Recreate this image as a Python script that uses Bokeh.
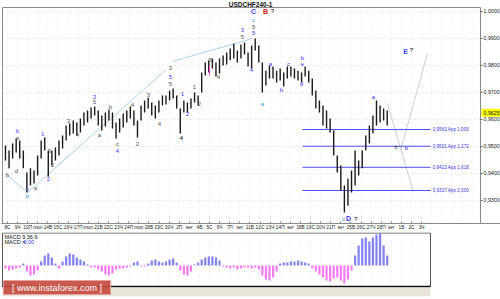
import numpy as np
from bokeh.plotting import figure
from bokeh.layouts import column
from bokeh.models import ColumnDataSource, Range1d, FixedTicker
from bokeh.core.properties import value
from bokeh.embed import file_html
from bokeh.resources import INLINE

FONT = "Liberation Sans"

# ---------------- data ----------------
HIGH = [0.9504, 0.9485, 0.9511, 0.9530, 0.9522, 0.9485, 0.9404, 0.9419, 0.9411, 0.9467,
        0.9522, 0.9533, 0.9485, 0.9485, 0.9496, 0.9522, 0.9541, 0.9578, 0.9585, 0.9596,
        0.9589, 0.9604, 0.9626, 0.9633, 0.9644, 0.9648, 0.9633, 0.9615, 0.9626, 0.9637,
        0.9626, 0.9589, 0.9604, 0.9622, 0.9633, 0.9648, 0.9633, 0.9596, 0.9652, 0.9670,
        0.9681, 0.9663, 0.9652, 0.9670, 0.9689, 0.9689, 0.9707, 0.9715, 0.9689, 0.9641,
        0.9670, 0.9663, 0.9678, 0.9700, 0.9689, 0.9774, 0.9811, 0.9819, 0.9826, 0.9811,
        0.9826, 0.9837, 0.9848, 0.9863, 0.9881, 0.9856, 0.9878, 0.9885, 0.9848, 0.9874,
        0.9900, 0.9874, 0.9811, 0.9781, 0.9800, 0.9796, 0.9781, 0.9789, 0.9774, 0.9796,
        0.9796, 0.9789, 0.9781, 0.9774, 0.9796, 0.9781, 0.9752, 0.9707, 0.9670, 0.9652,
        0.9633, 0.9604, 0.9559, 0.9467, 0.9430, 0.9356, 0.9381, 0.9411, 0.9485, 0.9448,
        0.9485, 0.9541, 0.9578, 0.9615, 0.9670, 0.9652, 0.9641, 0.9633]
LOW = [0.9448, 0.9419, 0.9456, 0.9478, 0.9456, 0.9419, 0.9330, 0.9356, 0.9363, 0.9393,
       0.9456, 0.9485, 0.9389, 0.9430, 0.9448, 0.9467, 0.9493, 0.9522, 0.9541, 0.9548,
       0.9541, 0.9552, 0.9578, 0.9589, 0.9604, 0.9615, 0.9578, 0.9559, 0.9574, 0.9596,
       0.9567, 0.9530, 0.9552, 0.9570, 0.9589, 0.9604, 0.9578, 0.9533, 0.9596, 0.9626,
       0.9641, 0.9615, 0.9604, 0.9626, 0.9652, 0.9656, 0.9670, 0.9678, 0.9641, 0.9548,
       0.9626, 0.9626, 0.9641, 0.9663, 0.9652, 0.9700, 0.9763, 0.9774, 0.9789, 0.9759,
       0.9770, 0.9800, 0.9804, 0.9819, 0.9826, 0.9811, 0.9826, 0.9841, 0.9796, 0.9789,
       0.9856, 0.9811, 0.9700, 0.9726, 0.9752, 0.9752, 0.9737, 0.9744, 0.9722, 0.9752,
       0.9759, 0.9752, 0.9744, 0.9737, 0.9759, 0.9737, 0.9689, 0.9641, 0.9626, 0.9578,
       0.9567, 0.9552, 0.9467, 0.9404, 0.9337, 0.9256, 0.9281, 0.9330, 0.9356, 0.9393,
       0.9419, 0.9485, 0.9511, 0.9548, 0.9578, 0.9589, 0.9596, 0.9578]
MACD_HIST = [-0.0003, -0.0005, -0.0004, -0.0003, -0.0002, 0.0002, -0.0006, -0.0010, -0.0009, -0.0005,
             0.0004, 0.0010, 0.0012, 0.0008, 0.0002, -0.0003, 0.0004, 0.0009, 0.0012, 0.0011,
             0.0008, 0.0006, 0.0004, 0.0001, -0.0002, -0.0002, -0.0004, -0.0006, -0.0009, -0.0010,
             -0.0008, -0.0004, -0.0003, -0.0003, -0.0002, -0.0001, 0.0003, 0.0004, -0.0001, -0.0001,
             0.0002, 0.0005, 0.0006, 0.0004, 0.0003, 0.0004, 0.0006, 0.0007, 0.0003, -0.0005,
             -0.0009, -0.0010, -0.0006, 0.0001, 0.0003, 0.0006, 0.0008, 0.0009, 0.0009, 0.0008,
             0.0005, -0.0001, -0.0002, -0.0003, -0.0002, -0.0004, -0.0003, -0.0002, -0.0002, -0.0003,
             -0.0002, -0.0004, -0.0010, -0.0014, -0.0015, -0.0012, -0.0006, 0.0002, 0.0003, 0.0003,
             0.0004, 0.0004, 0.0005, 0.0004, 0.0003, 0.0002, -0.0003, -0.0006, -0.0009, -0.0012,
             -0.0015, -0.0016, -0.0013, -0.0012, -0.0015, -0.0018, -0.0014, -0.0005, 0.0010, 0.0020,
             0.0027, 0.0028, 0.0024, 0.0028, 0.0031, 0.0032, 0.0020, 0.0010]
DATE_LABELS = ["8С", "9Ч", "10П", "mon", "14В", "15С", "16Ч", "17П", "mon", "21В",
               "22С", "23Ч", "24П", "mon", "28В", "29С", "30Ч", "2П", "ser", "4В",
               "5С", "6Ч", "7П", "ser", "11В", "12С", "13Ч", "14П", "ser", "18В",
               "19С", "20Ч", "21П", "ser", "25В", "26С", "27Ч", "28П", "ser", "1В",
               "2С", "3Ч"]
PRICE_TICKS = [1.0000, 0.9900, 0.9800, 0.9700, 0.9600, 0.9500, 0.9400, 0.9300]
LAST_PRICE = 0.9625
FIB_LEVELS = [0.9563, 0.9501, 0.9423, 0.9337]
FIB_RATIOS = ["1,000", "1,272", "1,618", "2,000"]
SYMBOL = "USDCHF240-1"
MACD_NAME = "MACD 9,36,6"
MACD_VALUE = "0,00"

# wave annotations: text, day position, price, colour key
WAVES = [
    ("b", 0.99, 0.9556, "blue"), ("a", 0.99, 0.9530, "gray"), ("d", 0.89, 0.9411, "gray"),
    ("b", 0.00, 0.9393, "gray"), ("c", 1.98, 0.9344, "steel"), ("b", 1.98, 0.9318, "cyan"),
    ("a", 2.77, 0.9348, "gray"), ("1", 3.47, 0.9548, "blue"), ("3", 4.16, 0.9485, "gray"),
    ("2", 4.46, 0.9430, "gray"), ("2", 4.06, 0.9381, "blue"), ("3", 6.04, 0.9593, "gray"),
    ("4", 6.93, 0.9544, "gray"), ("3", 8.61, 0.9685, "blue"), ("5", 8.61, 0.9663, "gray"),
    ("b", 10.20, 0.9648, "gray"), ("a", 9.11, 0.9544, "gray"), ("c", 10.89, 0.9511, "gray"),
    ("4", 10.89, 0.9485, "blue"), ("4", 12.38, 0.9652, "gray"), ("2", 12.87, 0.9511, "gray"),
    ("3", 13.96, 0.9689, "gray"), ("4", 15.05, 0.9585, "gray"), ("3", 16.14, 0.9789, "gray"),
    ("5", 16.14, 0.9759, "blue"), ("5", 16.14, 0.9733, "gray"), ("1", 17.33, 0.9696, "blue"),
    ("2", 17.82, 0.9622, "blue"), ("4", 17.23, 0.9530, "black"), ("1", 18.51, 0.9719, "gray"),
    ("2", 19.01, 0.9656, "gray"), ("5", 20.10, 0.9822, "gray"), ("4", 20.89, 0.9756, "gray"),
    ("3", 23.27, 0.9933, "blue"), ("5", 23.27, 0.9907, "gray"), ("4", 24.16, 0.9785, "blue"),
    ("c", 24.36, 0.9970, "cyan"), ("5", 24.36, 0.9944, "gray"), ("5", 24.36, 0.9919, "blue"),
    ("a", 25.25, 0.9659, "cyan"), ("a", 26.04, 0.9807, "blue"), ("b", 27.13, 0.9711, "blue"),
    ("c", 27.82, 0.9807, "blue"), ("d", 29.11, 0.9733, "blue"), ("b", 29.21, 0.9826, "blue"),
    ("e", 29.21, 0.9804, "blue"), ("a", 36.24, 0.9685, "blue"), ("?", 38.42, 0.9493, "black"),
    ("b", 39.50, 0.9496, "blue"), ("c", 33.27, 0.9233, "cyan"), ("?", 34.46, 0.9233, "black"),
    ("?", 40.00, 0.9856, "black"), ("?", 26.24, 1.0000, "black"),
]
BIG_WAVES = [("C", 24.36, 1.0000, "blue"), ("B", 25.54, 1.0000, "red"),
             ("E", 39.41, 0.9852, "blue"), ("D", 33.76, 0.9233, "blue")]
COLORS = {"blue": "#3a3af0", "gray": "#555555", "black": "#000000",
          "steel": "#3f6fb0", "cyan": "#2a9ad8", "red": "#d42020"}

# trend lines (day, price)
TREND_A = ([-0.2, 1.98], [0.9400, 0.9330])
TREND_B = ([1.98, 15.64], [0.9330, 0.9782])
TREND_C = ([16.34, 24.26], [0.9815, 0.9900])
PROJ_1 = ([37.62, 40.20], [0.9659, 0.9330])
PROJ_2 = ([38.91, 41.58], [0.9485, 0.9844])
MARKER = ([20.0], [0.9800], [0.9763])

# ---------------- layout constants (day units / price units) ----------------
BAR_X0, BAR_STEP = -0.2, 0.3532
X_ALL = (-0.594, 48.81)           # full canvas width, both panels
Y_MAIN = (0.921481, 1.004074)     # canvas top to date axis
BOX_L, BOX_R, BOX_T = -0.495, 46.83, 1.00148
MACD_R = 41.88
Y_MACD = (-0.0031, 0.0033)
PX_PRICE = 1 / 2700.0             # price per pixel in main panel
PX_DAY = 1 / 10.1                 # day per pixel

n = len(HIGH)
bar_x = BAR_X0 + BAR_STEP * np.arange(n)

# ---------------- main price chart ----------------
p = figure(width=500, height=232, x_range=Range1d(*X_ALL), y_range=Range1d(*Y_MAIN),
           x_axis_location="below", y_axis_location=None,
           output_backend="svg", toolbar_location=None,
           min_border_left=1, min_border_right=0, min_border_top=0, min_border_bottom=9,
           outline_line_color=None, background_fill_color="white",
           border_fill_color="white")
p.grid.visible = False

xa = p.xaxis[0]
xa.ticker = FixedTicker(ticks=list(range(len(DATE_LABELS))))
xa.major_label_overrides = {i: s for i, s in enumerate(DATE_LABELS)}
xa.major_label_text_font = FONT
xa.major_label_text_font_size = "4.8px"
xa.major_label_text_color = "#222222"
xa.major_tick_out = 0
xa.major_tick_in = 2
xa.minor_tick_out = 0
xa.minor_tick_in = 0
xa.major_label_standoff = 1
xa.axis_line_color = "#8a8a8a"
xa.major_tick_line_color = "#8a8a8a"

# dotted grid inside the price box
days = list(range(0, 47))
p.segment(x0=days, x1=days, y0=[Y_MAIN[0]] * len(days), y1=[BOX_T] * len(days),
          line_color="#e2e2e2", line_dash="1 4", line_width=1)
p.segment(x0=[BOX_L] * len(PRICE_TICKS), x1=[BOX_R] * len(PRICE_TICKS),
          y0=PRICE_TICKS, y1=PRICE_TICKS, line_color="#d6d6d6", line_dash="1 3", line_width=1)

# price box edges
p.segment(x0=[BOX_L, BOX_L, BOX_R], x1=[BOX_R, BOX_L, BOX_R],
          y0=[BOX_T, BOX_T, BOX_T], y1=[BOX_T, Y_MAIN[0], Y_MAIN[0]],
          line_color="#8a8a8a", line_width=1)

# right price scale
tick_txt = [f"{t:.4f}".replace(".", ",") for t in PRICE_TICKS]
p.segment(x0=[BOX_R] * len(PRICE_TICKS), x1=[BOX_R + 2 * PX_DAY] * len(PRICE_TICKS),
          y0=PRICE_TICKS, y1=PRICE_TICKS, line_color="#666666", line_width=1)
p.text(x=[BOX_R + 3 * PX_DAY] * len(PRICE_TICKS), y=PRICE_TICKS, text=tick_txt,
       text_font=value(FONT), text_font_size="5.3px", text_color="#222222",
       text_align="left", text_baseline="middle")
p.quad(left=[BOX_R + 1 * PX_DAY], right=[BOX_R + 19.5 * PX_DAY],
       bottom=[LAST_PRICE - 4 * PX_PRICE], top=[LAST_PRICE + 4 * PX_PRICE],
       fill_color="#ffff00", line_color=None)
p.text(x=[BOX_R + 3 * PX_DAY], y=[LAST_PRICE], text=[f"{LAST_PRICE:.4f}".replace(".", ",")],
       text_font=value(FONT), text_font_size="5.3px", text_color="#111111",
       text_align="left", text_baseline="middle")

# title
p.text(x=[(BOX_L + BOX_R) / 2 + 0.9], y=[BOX_T + 3.5 * PX_PRICE], text=[SYMBOL],
       text_font=value(FONT), text_font_size="6.5px", text_font_style="bold",
       text_color="#111111", text_align="center", text_baseline="middle")

# trend and projection lines
for xs, ys in (TREND_A, TREND_B, TREND_C):
    p.line(xs, ys, line_color="#a8d4ee", line_width=1)
for xs, ys in (PROJ_1, PROJ_2):
    p.line(xs, ys, line_color="#cfcfcf", line_width=1)

# fibonacci levels
fib_src = ColumnDataSource(dict(
    x0=[29.21] * len(FIB_LEVELS), x1=[41.9] * len(FIB_LEVELS), y=FIB_LEVELS,
    tx=[42.1] * len(FIB_LEVELS),
    txt=[f"{lv:.4f}".replace(".", ",") + " App " + r for lv, r in zip(FIB_LEVELS, FIB_RATIOS)]))
p.segment(x0="x0", x1="x1", y0="y", y1="y", source=fib_src, line_color="#5050ee", line_width=1)
p.text(x="tx", y="y", text="txt", source=fib_src, text_font=value(FONT),
       text_font_size="4.6px", text_color="#3a3ae0", text_baseline="middle", text_align="left")

# price bars
p.segment(x0=bar_x, x1=bar_x, y0=LOW, y1=HIGH, line_color="#1a1a1a", line_width=1.4)

# pink marker
p.segment(x0=MARKER[0], x1=MARKER[0], y0=MARKER[1], y1=MARKER[2], line_color="#ff40d0", line_width=1)

# wave labels
wsrc = ColumnDataSource(dict(x=[w[1] for w in WAVES], y=[w[2] for w in WAVES],
                             t=[w[0] for w in WAVES], c=[COLORS[w[3]] for w in WAVES]))
p.text(x="x", y="y", text="t", source=wsrc, text_color="c", text_font=value(FONT),
       text_font_size="6px", text_align="center", text_baseline="middle")
bsrc = ColumnDataSource(dict(x=[w[1] for w in BIG_WAVES], y=[w[2] for w in BIG_WAVES],
                             t=[w[0] for w in BIG_WAVES], c=[COLORS[w[3]] for w in BIG_WAVES]))
p.text(x="x", y="y", text="t", source=bsrc, text_color="c", text_font=value(FONT),
       text_font_size="7px", text_font_style="bold", text_align="center", text_baseline="middle")

# ---------------- MACD panel ----------------
q = figure(width=500, height=67, x_range=Range1d(*X_ALL), y_range=Range1d(*Y_MACD),
           x_axis_location=None, y_axis_location=None,
           output_backend="svg", toolbar_location=None,
           min_border_left=1, min_border_right=0, min_border_top=0, min_border_bottom=3,
           outline_line_color=None, background_fill_color="white", border_fill_color="white")
q.grid.visible = False
mdays = list(range(0, 42))
q.segment(x0=mdays, x1=mdays, y0=[-0.0021] * len(mdays), y1=[0.0033] * len(mdays),
          line_color="#e2e2e2", line_dash="1 4", line_width=1)

macd = np.array(MACD_HIST)
colors = np.where(macd >= 0, "#8383ee", "#f47cf0")
q.vbar(x=bar_x, top=macd, bottom=0, width=0.22, fill_color=colors, line_color=None)

# panel frame, bottom rule, band and watermark
q.quad(left=[BOX_L], right=[MACD_R], bottom=[-0.0021], top=[0.00325],
       fill_color=None, line_color="#555555", line_width=1)
q.quad(left=[BOX_L], right=[MACD_R], bottom=[Y_MACD[0]], top=[-0.00225],
       fill_color="#e7e4da", line_color=None)
q.segment(x0=[BOX_L], x1=[MACD_R], y0=[-0.0021], y1=[-0.0021],
          line_color="#111111", line_width=1.6)
q.quad(left=[-0.40], right=[10.2], bottom=[-0.0029], top=[-0.0015],
       fill_color="#c64b40", fill_alpha=0.92, line_color="#e8a0a0")
q.text(x=[4.9], y=[-0.0022], text=["[ www.instaforex.com ]"], text_font=value(FONT),
       text_font_size="9px", text_color="white", text_align="center", text_baseline="middle")

q.text(x=[-0.3], y=[0.0029], text=[MACD_NAME], text_font=value(FONT), text_font_size="5.5px",
       text_color="#111111", text_align="left", text_baseline="middle")
q.text(x=[-0.3], y=[0.0024], text=["MACD ="], text_font=value(FONT), text_font_size="5.5px",
       text_color="#111111", text_align="left", text_baseline="middle")
q.text(x=[1.58], y=[0.0024], text=[MACD_VALUE], text_font=value(FONT), text_font_size="5.5px",
       text_color="#3a3af0", text_align="left", text_baseline="middle")

layout = column(p, q, spacing=0)
open("out.html", "w").write(file_html(layout, INLINE))
